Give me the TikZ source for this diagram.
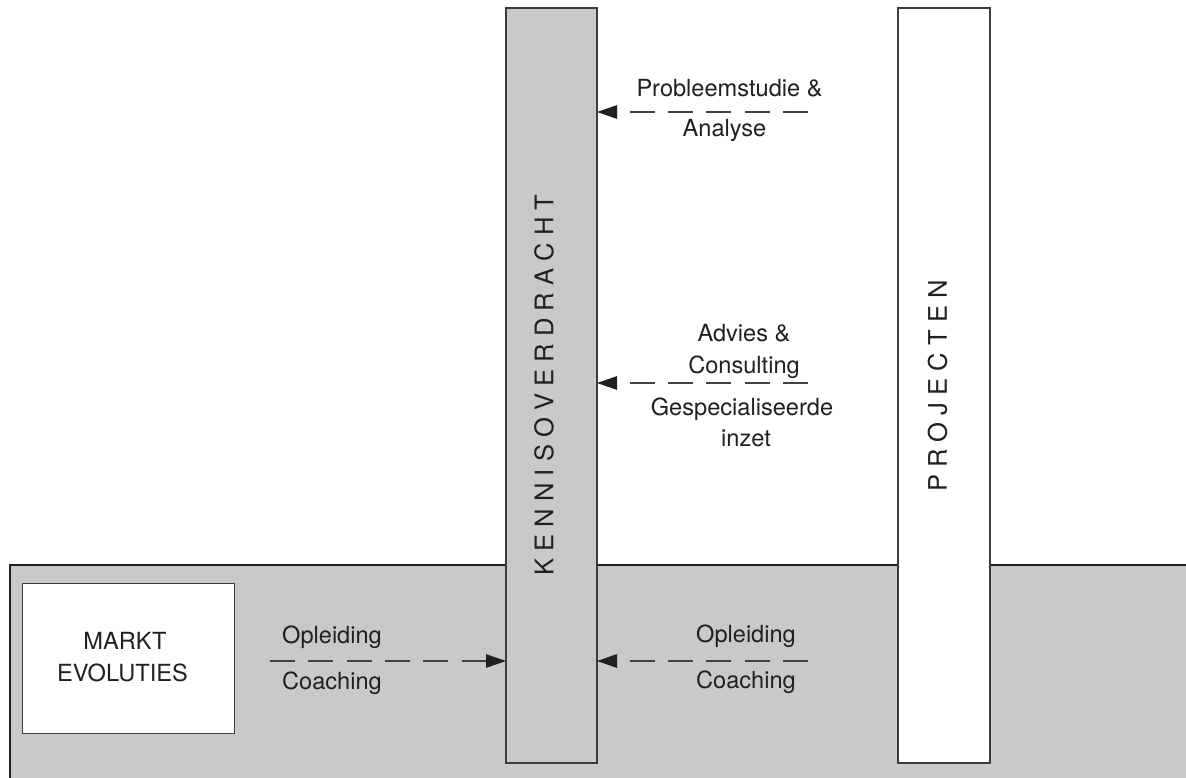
\documentclass[tikz,border=0pt]{standalone}
\usepackage{fontspec}
\setmainfont{TeX Gyre Heros}
\usetikzlibrary{arrows.meta}
\definecolor{panelgray}{RGB}{200,201,203}
\definecolor{ink}{RGB}{35,31,32}
\definecolor{edge}{RGB}{60,60,60}
\begin{document}
\begin{tikzpicture}[x=1pt,y=-1pt,
  bar/.style={draw=edge,line width=1.2pt,inner sep=0pt,outer sep=0pt},
  lbl/.style={text=ink,font=\fontsize{23.6}{28}\selectfont,inner sep=0pt,anchor=base},
  vlbl/.style={text=ink,font=\fontsize{25.6}{30}\selectfont,inner sep=0pt,rotate=90},
  flow/.style={draw=ink!85,line width=1.1pt,dash pattern=on 25pt off 13.3pt,
    -{Triangle[length=20pt,width=13.5pt,color=ink]}}]
\useasboundingbox (0,0) rectangle (1186,778);
\fill[white] (0,0) rectangle (1186,778);
% bottom band
\fill[panelgray] (10,565) rectangle (1186,778);
\draw[ink,line width=1.3pt] (1186,565) -- (10,565) -- (10,778);
% bars and box
\node[bar,fill=panelgray,minimum width=91pt,minimum height=755pt] (kennis) at (551.5,385.5) {};
\node[bar,fill=white,minimum width=92pt,minimum height=755pt] (proj) at (944,385.5) {};
\node[bar,fill=white,line width=1pt,minimum width=212pt,minimum height=150pt] (markt) at (128,658) {};
% vertical labels
\node[vlbl] (kennislbl) at (544,385) {K E N N I S O V E R D R A C H T};
\node[vlbl] (projlbl) at (937.5,386) {P R O J E C T E N};
% markt label
\node[lbl] (m1) at (125,649) {MARKT};
\node[lbl] (m2) at (122.5,681) {EVOLUTIES};
% arrows
\coordinate (s1) at (808,112);
\coordinate (s2) at (808,383);
\coordinate (s3) at (808,661);
\coordinate (s4) at (270,661);
\draw[flow] (s1) -- (s1 -| kennis.east);
\draw[flow] (s2) -- (s2 -| kennis.east);
\draw[flow] (s3) -- (s3 -| kennis.east);
\draw[flow] (s4) -- (s4 -| kennis.west);
% arrow labels
\node[lbl] (t1a) at (729.5,97) {Probleemstudie \&};
\node[lbl] (t1b) at (724.5,137) {Analyse};
\node[lbl] (t2a) at (744,341.5) {Advies \&};
\node[lbl] (t2b) at (744,373) {Consulting};
\node[lbl] (t2c) at (742,415) {Gespecialiseerde};
\node[lbl] (t2d) at (746,446) {inzet};
\node[lbl] (t3a) at (746,642) {Opleiding};
\node[lbl] (t3b) at (746,688) {Coaching};
\node[lbl] (t4a) at (332,643) {Opleiding};
\node[lbl] (t4b) at (332,689) {Coaching};
\end{tikzpicture}
\end{document}
